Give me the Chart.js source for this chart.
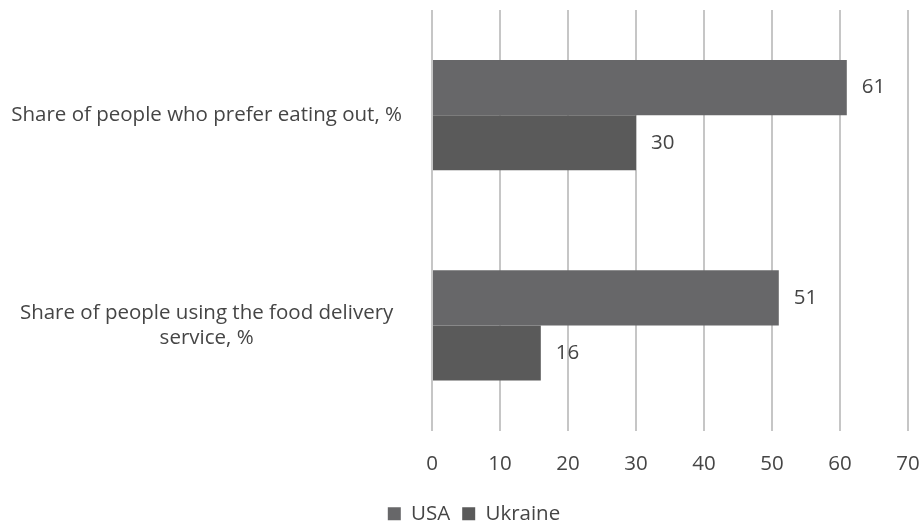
<!DOCTYPE html>
<html>
<head>
<meta charset="utf-8">
<script src="https://cdn.jsdelivr.net/npm/chart.js@4/dist/chart.umd.min.js"></script>
<style>
html,body{margin:0;padding:0;background:#fff;}
#wrap{width:922px;height:524px;position:relative;}
</style>
</head>
<body>
<div id="wrap"><canvas id="c" width="922" height="524"></canvas></div>
<script>
const categories = [
  "Share of people who prefer eating out, %",
  ["Share of people using the food delivery", "service, %"]
];
const seriesNames = ["USA", "Ukraine"];
const usaValues = [61, 51];
const ukraineValues = [30, 16];
const xTicks = [0, 10, 20, 30, 40, 50, 60, 70];

const FONT = "'Open Sans', sans-serif";
const FS = 20.5;
const TEXT = "#454545";

const valueLabels = {
  id: 'valueLabels',
  afterDatasetsDraw(chart) {
    const ctx = chart.ctx;
    ctx.save();
    ctx.font = FS + "px " + FONT;
    ctx.fillStyle = TEXT;
    ctx.textAlign = 'left';
    ctx.textBaseline = 'middle';
    chart.data.datasets.forEach((ds, i) => {
      const meta = chart.getDatasetMeta(i);
      meta.data.forEach((bar, j) => {
        ctx.fillText(String(ds.data[j]), bar.x + 15, bar.y);
      });
    });
    ctx.restore();
  }
};

// nudge the legend block (kept as Chart.js legend) lower/right like the original
const legendShift = {
  id: 'legendShift',
  afterLayout(chart) {
    const l = chart.legend;
    if (!l) return;
    l.top += 10; l.bottom += 10;
    l.left += 20; l.right += 20;
  }
};

new Chart(document.getElementById('c'), {
  type: 'bar',
  data: {
    labels: categories,
    datasets: [
      { label: seriesNames[0], data: usaValues, backgroundColor: '#676769', barPercentage: 1, categoryPercentage: 0.524 },
      { label: seriesNames[1], data: ukraineValues, backgroundColor: '#5a5a5a', barPercentage: 1, categoryPercentage: 0.524 }
    ]
  },
  options: {
    indexAxis: 'y',
    responsive: false,
    animation: false,
    layout: { padding: { top: 10, right: 14, left: 0, bottom: 0 } },
    plugins: {
      legend: {
        position: 'bottom',
        labels: { boxWidth: 13, boxHeight: 13, color: TEXT, font: { family: FONT, size: FS }, padding: 12 }
      },
      tooltip: { enabled: false }
    },
    scales: {
      x: {
        min: 0, max: 70,
        afterBuildTicks(scale) { scale.ticks = xTicks.map(v => ({ value: v })); },
        grid: { color: '#c6c6c6', lineWidth: 2, drawTicks: false },
        border: { display: false },
        ticks: { color: TEXT, font: { family: FONT, size: FS }, padding: 21, maxRotation: 0 },
        afterFit(scale) { scale.paddingLeft = 0; scale.paddingRight = 0; scale.height = 51; }
      },
      y: {
        grid: { display: false },
        border: { display: false },
        ticks: { color: TEXT, font: { family: FONT, size: FS }, padding: 22, crossAlign: 'center' },
        afterFit(scale) { scale.width = 432; scale.paddingTop = 0; scale.paddingBottom = 0; }
      }
    }
  },
  plugins: [valueLabels, legendShift]
});
</script>
</body>
</html>
